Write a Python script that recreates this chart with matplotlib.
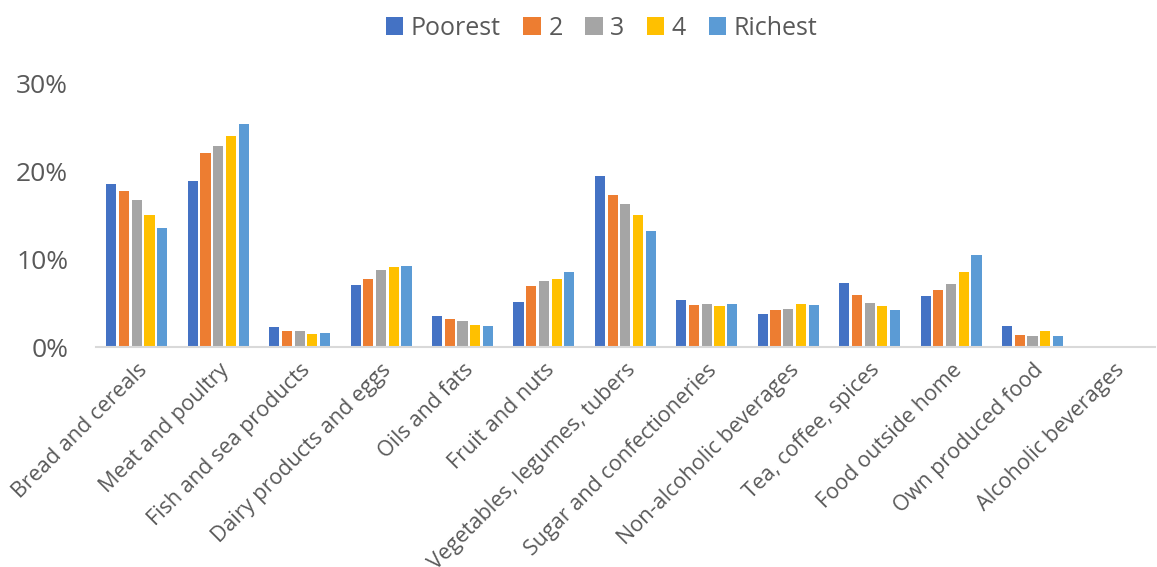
import numpy as np
import matplotlib
matplotlib.use('Agg')
import matplotlib.pyplot as plt
from matplotlib.ticker import FuncFormatter

categories = ['Bread and cereals', 'Meat and poultry', 'Fish and sea products',
              'Dairy products and eggs', 'Oils and fats', 'Fruit and nuts',
              'Vegetables, legumes, tubers', 'Sugar and confectioneries',
              'Non-alcoholic beverages', 'Tea, coffee, spices',
              'Food outside home', 'Own produced food', 'Alcoholic beverages']
series = ['Poorest', '2', '3', '4', 'Richest']

poorest = [18.6, 18.9, 2.25, 7.1, 3.5, 5.1, 19.5, 5.4, 3.8, 7.25, 5.8, 2.35, 0.0]
q2 = [17.8, 22.1, 1.8, 7.8, 3.2, 7.0, 17.3, 4.75, 4.2, 5.9, 6.5, 1.35, 0.0]
q3 = [16.8, 22.9, 1.8, 8.75, 3.0, 7.5, 16.3, 4.85, 4.3, 5.05, 7.15, 1.25, 0.0]
q4 = [15.1, 24.1, 1.5, 9.1, 2.55, 7.8, 15.0, 4.65, 4.85, 4.65, 8.6, 1.8, 0.0]
richest = [13.6, 25.4, 1.65, 9.2, 2.45, 8.6, 13.2, 4.85, 4.75, 4.2, 10.45, 1.3, 0.0]

colors = ['#4472C4', '#ED7D31', '#A5A5A5', '#FFC000', '#5B9BD5']
txt = '#595959'
plt.rcParams['font.family'] = ['Open Sans', 'DejaVu Sans']

fig = plt.figure(figsize=(11.57, 5.67), dpi=100)
ax = fig.add_axes([0.083, 0.388, 0.915, 0.464])

x = np.arange(len(categories))
step = 0.156
for i, (vals, lab) in enumerate(zip([poorest, q2, q3, q4, richest], series)):
    ax.bar(x + (i - 2) * step, np.array(vals) / 100, width=0.124,
           color=colors[i], label=lab, zorder=2)

ax.set_xlim(-0.5, len(categories) - 0.5)
ax.set_ylim(0, 0.30)
ax.set_yticks([0, 0.1, 0.2, 0.3])
ax.yaxis.set_major_formatter(FuncFormatter(lambda v, p: f'{v*100:.0f}%'))
for s in ['top', 'right', 'left']:
    ax.spines[s].set_visible(False)
ax.spines['bottom'].set_color('#d9d9d9')
ax.spines['bottom'].set_linewidth(1.5)
ax.tick_params(axis='y', length=0, labelsize=19, labelcolor=txt, pad=20)
ax.tick_params(axis='x', length=0, labelsize=15.5, labelcolor=txt, pad=9)
ax.set_xticks(x)
ax.set_xticklabels(categories, rotation=45, ha='right', rotation_mode='anchor')

leg = fig.legend(loc='center', bbox_to_anchor=(0.52, 0.95), ncol=5, frameon=False,
                 fontsize=18, handlelength=0.7, handleheight=0.7,
                 handletextpad=0.3, columnspacing=0.9)
for t in leg.get_texts():
    t.set_color(txt)

fig.savefig('out.png', dpi=100)
